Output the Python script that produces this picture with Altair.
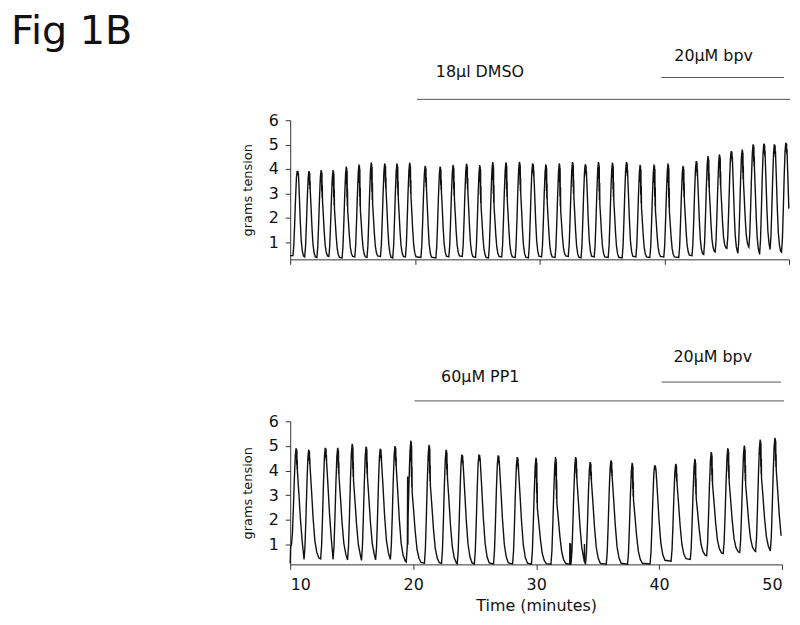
import altair as alt
import pandas as pd

# ---------------- data ----------------
# Top trace (18 ul DMSO then 20 uM bpv): per contraction cycle
TOP_PEAK_T = [10.56, 11.50, 12.48, 13.44, 14.50, 15.52, 16.50, 17.58, 18.56, 19.58,
              20.82, 22.02, 23.06, 24.14, 25.20, 26.24, 27.30, 28.38, 29.44, 30.50,
              31.58, 32.64, 33.66, 34.72, 35.84, 36.96, 38.06, 39.18, 40.30, 41.50,
              42.56, 43.50, 44.42, 45.36, 46.24, 47.12, 47.98, 48.82, 49.74]
TOP_PEAK_V = [3.93, 3.92, 3.96, 3.96, 4.10, 4.19, 4.27, 4.23, 4.23, 4.26,
              4.13, 4.10, 4.17, 4.22, 4.16, 4.29, 4.28, 4.30, 4.23, 4.19,
              4.23, 4.29, 4.19, 4.29, 4.26, 4.29, 4.17, 4.19, 4.23, 4.13,
              4.33, 4.53, 4.60, 4.74, 4.80, 5.01, 5.04, 5.01, 5.08]
TOP_NOTCH = [3.72, 3.10, 2.70, 2.36, 2.29, 2.29, 2.56, 3.10, 2.77, 2.83,
             3.17, 3.04, 2.77, 3.04, 2.43, 2.43, 2.70, 2.97, 3.65, 2.63,
             2.29, 2.83, 3.65, 2.56, 2.70, 3.65, 2.42, 2.29, 2.22, 2.70,
             3.65, 3.10, 3.20, 4.26, 3.45, 4.00, 4.45, 4.45, 4.55]
TOP_TROUGH = [0.45, 0.40, 0.38, 0.42, 0.36, 0.40, 0.38, 0.42, 0.36, 0.40,
              0.38, 0.36, 0.40, 0.42, 0.38, 0.36, 0.40, 0.38, 0.36, 0.40,
              0.38, 0.42, 0.36, 0.40, 0.38, 0.36, 0.40, 0.38, 0.40, 0.38,
              0.45, 0.50, 0.60, 0.75, 0.55, 0.80, 0.50, 0.70, 0.60]
TOP_START_T = [10.0]
TOP_START_V = [0.45]
TOP_END_V = 0.60

# Bottom trace (60 uM PP1 then 20 uM bpv)
BOT_PEAK_T = [10.48, 11.50, 12.85, 13.86, 15.04, 16.17, 17.32, 18.52, 19.81, 21.29,
              22.68, 23.96, 25.35, 26.91, 28.46, 29.99, 31.58, 33.21, 34.39, 36.08,
              37.81, 39.64, 41.35, 42.91, 44.24, 45.59, 46.93, 48.22, 49.42]
BOT_PEAK_V = [4.91, 4.85, 4.93, 4.93, 5.09, 4.98, 4.89, 5.00, 5.22, 5.05,
              4.85, 4.65, 4.65, 4.62, 4.55, 4.53, 4.55, 4.55, 4.35, 4.42,
              4.32, 4.22, 4.28, 4.48, 4.75, 4.91, 5.02, 5.26, 5.33]
BOT_NOTCH = [3.95, 4.20, 4.35, 3.75, 3.60, 3.75, 4.35, 4.10, 3.10, 3.40,
             3.70, 4.20, 4.35, 4.20, 4.00, 2.47, 2.67, 3.60, 3.55, 3.70,
             2.80, 4.00, 3.48, 2.88, 3.42, 3.55, 3.42, 3.70, 4.00]
BOT_TROUGH = [1.00, 0.40, 0.42, 0.40, 0.38, 0.36, 0.38, 0.40, 0.30, 0.25,
              0.24, 0.22, 0.22, 0.22, 0.22, 0.21, 0.21, 0.21, 0.21, 0.21,
              0.21, 0.22, 0.33, 0.40, 0.55, 0.64, 0.68, 0.72, 0.74]
BOT_START_T = [10.00, 10.03]
BOT_START_V = [0.25, 0.90]
BOT_END_V = 0.70
# brief artefact spikes in the bottom trace
BOT_SPIKE_T = [19.53, 19.55, 19.57, 32.732, 32.74, 32.748, 32.792, 32.80, 32.808, 33.92, 33.93, 33.94]
BOT_SPIKE_V = [1.00, 3.76, 1.00, 0.21, 1.07, 0.21, 0.21, 1.05, 0.21, 0.30, 1.03, 0.30]

# treatment bars (minutes)
TOP_TREAT = ["18\u03bcl DMSO", "20\u03bcM bpv"]
TOP_TREAT_START = [20.16, 39.76]
TOP_TREAT_END = [50.08, 49.60]
TOP_TREAT_LABEL_T = [21.68, 40.80]
BOT_TREAT = ["60\u03bcM PP1", "20\u03bcM bpv"]
BOT_TREAT_START = [20.10, 40.20]
BOT_TREAT_END = [50.16, 49.90]
BOT_TREAT_LABEL_T = [22.27, 41.17]

X_TICKS = [10, 20, 30, 40, 50]
Y_TICKS = [1, 2, 3, 4, 5, 6]

# waveform template of a single contraction (relative time, fraction of amplitude)
RISE = [(-0.34, 0.0), (-0.27, 0.12), (-0.20, 0.38), (-0.13, 0.68), (-0.06, 0.92), (0.0, 1.0)]
# noisy plateau: (relative time, fraction between notch (0) and peak (1))
TOPZIG = [(0.02, 0.6), (0.035, 0.97), (0.05, 0.3), (0.065, 0.9), (0.08, 0.1), (0.095, 0.5), (0.11, 0.0)]
FALL = [(0.08, 0.75), (0.17, 0.45), (0.27, 0.20), (0.38, 0.07), (0.50, 0.01)]

FONT = "DejaVu Sans"


def build_trace(peak_t, peak_v, notch, trough, end_v, start_t, start_v,
                rise_s, fall_s, extra_t=(), extra_v=()):
    pts = list(zip(start_t, start_v))
    n = len(peak_t)
    for i in range(n):
        t, p, nv, b = peak_t[i], peak_v[i], notch[i], trough[i]
        bn = trough[i + 1] if i + 1 < n else end_v
        a = p - b
        for dt, f in RISE:
            pts.append((t + dt * rise_s, b + f * a))
        for dt, f in TOPZIG:
            pts.append((t + dt, nv + f * (p - nv)))
        t_end_zig = t + TOPZIG[-1][0]
        next_rise = peak_t[i + 1] + RISE[0][0] * rise_s if i + 1 < n else 99
        for dt, g in FALL:
            tt = t_end_zig + dt * fall_s
            if tt < next_rise - 0.01:
                pts.append((tt, bn + g * (nv - bn)))
    pts += list(zip(extra_t, extra_v))
    pts = [p for p in pts if p[0] <= 50.0]
    pts.sort(key=lambda q: q[0])
    return pd.DataFrame({"t": [p[0] for p in pts], "v": [p[1] for p in pts]})


top_df = build_trace(TOP_PEAK_T, TOP_PEAK_V, TOP_NOTCH, TOP_TROUGH, TOP_END_V,
                     TOP_START_T, TOP_START_V, 1.0, 0.8)
bot_df = build_trace(BOT_PEAK_T, BOT_PEAK_V, BOT_NOTCH, BOT_TROUGH, BOT_END_V,
                     BOT_START_T, BOT_START_V, 1.1, 1.45, BOT_SPIKE_T, BOT_SPIKE_V)

XS = alt.Scale(domain=[10, 50], nice=False, zero=False)


def panel(df, ydom, width, height, show_xlabels, treat, t0, t1, tlab,
          rule_y, text_y, fig_title=False):
    xaxis = alt.Axis(values=X_TICKS, tickSize=5, grid=False, labels=show_xlabels,
                     title="Time (minutes)" if show_xlabels else None,
                     labelFontSize=16, labelPadding=7, titleFontSize=16,
                     titlePadding=5, titleFontWeight="normal")
    yaxis = alt.Axis(values=Y_TICKS, tickSize=5, grid=False, labelPadding=7,
                     labelFontSize=16, title="grams tension", titleFontSize=13,
                     titleFontWeight="normal", titlePadding=14)
    ys = alt.Scale(domain=ydom, nice=False, zero=False)
    line = alt.Chart(df).mark_line(color="#111111", strokeWidth=1.4).encode(
        x=alt.X("t:Q", scale=XS, axis=xaxis),
        y=alt.Y("v:Q", scale=ys, axis=yaxis),
    )
    layers = [line]
    for k in range(len(treat)):
        rd = pd.DataFrame({"a": [t0[k]], "b": [t1[k]]})
        layers.append(alt.Chart(rd).mark_rule(color="#555555", strokeWidth=1).encode(
            x=alt.X("a:Q", scale=XS), x2="b:Q", y=alt.value(rule_y[k])))
        td = pd.DataFrame({"a": [tlab[k]], "lab": [treat[k]]})
        layers.append(alt.Chart(td).mark_text(align="left", baseline="middle",
                                              fontSize=16, font=FONT, color="#111111").encode(
            x=alt.X("a:Q", scale=XS), y=alt.value(text_y[k]), text="lab:N"))
    if fig_title:
        fd = pd.DataFrame({"lab": ["Fig 1B"]})
        layers.append(alt.Chart(fd).mark_text(align="left", baseline="top",
                                              fontSize=40, font=FONT, color="#111111").encode(
            x=alt.value(-281), y=alt.value(-109), text="lab:N"))
    return alt.layer(*layers).properties(width=width, height=height)


top = panel(top_df, [0.3, 6], 502, 140, False, TOP_TREAT, TOP_TREAT_START,
            TOP_TREAT_END, TOP_TREAT_LABEL_T, [-21, -43], [-48, -65], fig_title=True)
bot = panel(bot_df, [0.2, 6], 495, 144, True, BOT_TREAT, BOT_TREAT_START,
            BOT_TREAT_END, BOT_TREAT_LABEL_T, [-20.5, -39.5], [-44.5, -64.5])

chart = alt.vconcat(top, bot, spacing=163, bounds="flush").properties(
    padding={"top": 2, "left": 3, "right": 0, "bottom": 0}
).configure_view(strokeWidth=0).configure_axis(
    labelFont=FONT, titleFont=FONT, labelColor="#111111", titleColor="#111111",
    domainColor="#333333", tickColor="#333333"
)

chart.save("out.html", embed_options={"renderer": "svg", "actions": False})
